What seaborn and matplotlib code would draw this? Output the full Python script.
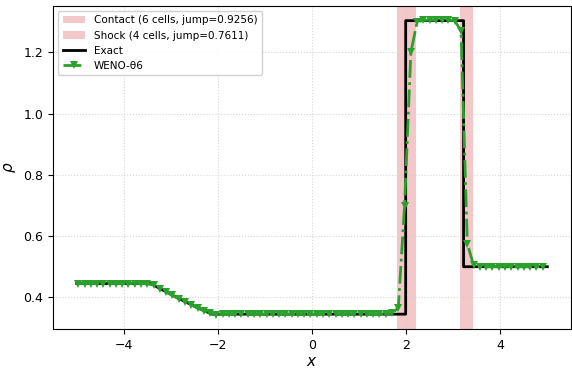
import numpy as np
import pandas as pd
import matplotlib
matplotlib.use("Agg")
import matplotlib.pyplot as plt
import seaborn as sns

# ---- data ----
# exact Riemann solution (Lax problem), breakpoints
x_exact = [-5.0, -3.42, -3.25, -3.0, -2.75, -2.5, -2.375, -2.125, 1.99, 1.99, 3.22, 3.22, 5.0]
rho_exact = [0.445, 0.445, 0.430, 0.410, 0.390, 0.371, 0.362, 0.345, 0.345, 1.304, 1.304, 0.500, 0.500]

# numerical solution (WENO-θ6), values at plotted cells
x_start, x_step = -4.9667, 0.13333
rho_num = [
    0.445, 0.445, 0.445, 0.445, 0.445, 0.445, 0.445, 0.445, 0.445, 0.445,
    0.445, 0.444, 0.440, 0.428, 0.417, 0.406, 0.395, 0.385, 0.375, 0.365,
    0.356, 0.348, 0.343, 0.344, 0.345, 0.345, 0.345, 0.345, 0.345, 0.345,
    0.345, 0.345, 0.345, 0.345, 0.345, 0.345, 0.345, 0.345, 0.345, 0.345,
    0.345, 0.345, 0.345, 0.345, 0.345, 0.345, 0.345, 0.345, 0.345, 0.346,
    0.348, 0.365, 0.700, 1.200, 1.300, 1.305, 1.306, 1.305, 1.306, 1.305,
    1.304, 1.270, 0.575, 0.505, 0.500, 0.500, 0.500, 0.500, 0.500, 0.500,
    0.500, 0.500, 0.500, 0.500, 0.500,
]
x_num = x_start + x_step * np.arange(len(rho_num))

contact_span = (1.81, 2.22)
shock_span = (3.15, 3.42)
contact_label = "Contact (6 cells, jump=0.9256)"
shock_label = "Shock (4 cells, jump=0.7611)"

df_exact = pd.DataFrame({"x": x_exact, "rho": rho_exact})
df_num = pd.DataFrame({"x": x_num, "rho": rho_num})

# ---- plot ----
fig = plt.figure(figsize=(5.72, 3.72), dpi=100)
ax = fig.add_axes([0.093, 0.116, 0.905, 0.868])

ax.axvspan(*contact_span, color="#d62728", alpha=0.25, lw=0, label=contact_label)
ax.axvspan(*shock_span, color="#d62728", alpha=0.25, lw=0, label=shock_label)

sns.lineplot(data=df_exact, x="x", y="rho", estimator=None, sort=False,
             color="black", lw=2, ax=ax, label="Exact")
sns.lineplot(data=df_num, x="x", y="rho", estimator=None, sort=False,
             color="#2ca02c", lw=2, ls="-.", marker="v", markersize=5.5,
             markeredgewidth=0, ax=ax, label="WENO-θ6")

ax.set_xlim(-5.5, 5.5)
ax.set_ylim(0.297, 1.352)
ax.set_xticks([-4, -2, 0, 2, 4])
ax.set_yticks([0.4, 0.6, 0.8, 1.0, 1.2])
ax.tick_params(labelsize=9)
ax.set_xlabel("$x$", fontsize=11, labelpad=2)
ax.set_ylabel(r"$\rho$", fontsize=11)
ax.grid(True, ls=":", color="#cccccc", lw=0.8, alpha=0.8)
ax.legend(loc="upper left", fontsize=7.5, framealpha=0.9, handlelength=2.2)

fig.savefig("out.png", dpi=100)
